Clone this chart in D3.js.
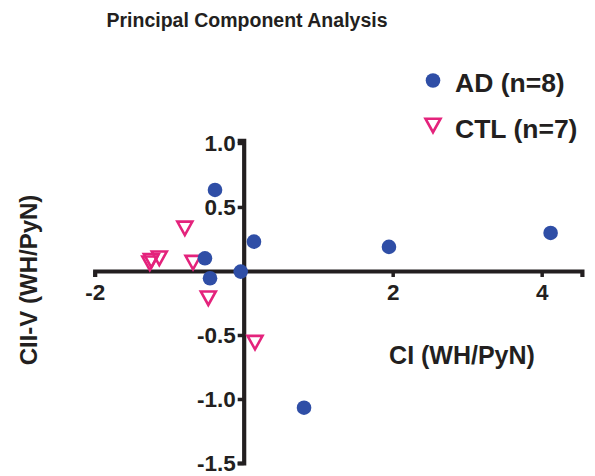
<!DOCTYPE html>
<html>
<head>
<meta charset="utf-8">
<script src="https://cdn.jsdelivr.net/npm/d3@7"></script>
<style>
  body { margin: 0; background: #fff; }
  text { font-family: "Liberation Sans", Arial, sans-serif; font-weight: bold; fill: #231f20; }
</style>
</head>
<body>
<svg id="chart" width="595" height="476"></svg>
<script>
// PCA scores
var adX  = [-0.385, 0.138, -0.52, -0.452, -0.04, 1.95, 4.12, 0.81];
var adY  = [0.633, 0.229, 0.099, -0.057, -0.005, 0.188, 0.297, -1.068];
var ctlX = [-0.79, -1.24, -1.133, -0.68, -0.475, 0.152, -1.26];
var ctlY = [0.333, 0.08, 0.099, 0.065, -0.213, -0.56, 0.06];
var xTicks = [-2, 2, 4];
var yTicks = [1.0, 0.5, -0.5, -1.0, -1.5];
var legendLabels = ['AD (n=8)', 'CTL (n=7)'];

var blue = '#2f4ea6', pink = '#e4237c', ink = '#231f20';

var svg = d3.select('#chart');

var x = d3.scaleLinear().domain([-2, 4.54]).range([94.7, 581.9]);
var y = d3.scaleLinear().domain([-1.5, 1.02]).range([463, 140.4]);

function tri(cx, cy, w, h) {
  return 'M' + (cx - w / 2) + ',' + (cy - h / 2) + 'L' + (cx + w / 2) + ',' + (cy - h / 2) + 'L' + cx + ',' + (cy + h / 2) + 'Z';
}
var fmt = function (f) { return function (d) { return f(d).replace('\u2212', '-'); }; };

// title
svg.append('text').attr('x', 247).attr('y', 27).attr('text-anchor', 'middle')
  .attr('font-size', 19.5).text('Principal Component Analysis');

// axes
var xAxis = svg.append('g').attr('transform', 'translate(0,' + y(0) + ')')
  .call(d3.axisBottom(x).tickValues(xTicks).tickSizeOuter(0).tickSize(6).tickPadding(7).tickFormat(fmt(d3.format('d'))));
var yAxis = svg.append('g').attr('transform', 'translate(' + x(0) + ',0)')
  .call(d3.axisLeft(y).tickValues(yTicks).tickSizeOuter(0).tickSize(6).tickPadding(2).tickFormat(fmt(d3.format('.1f'))));

[xAxis, yAxis].forEach(function (g) {
  g.select('.domain').attr('stroke', ink).attr('stroke-width', 4.2);
  g.selectAll('.tick line').attr('stroke', ink).attr('stroke-width', 3.5);
  g.selectAll('.tick text').attr('font-size', 22.5).attr('font-family', '"Liberation Sans", Arial, sans-serif')
    .attr('font-weight', 'bold').attr('fill', ink);
});

// axis labels
svg.append('text').attr('x', 462).attr('y', 364).attr('text-anchor', 'middle')
  .attr('font-size', 25).text('CI (WH/PyN)');
svg.append('text').attr('transform', 'translate(37,280) rotate(-90)').attr('text-anchor', 'middle')
  .attr('font-size', 24).text('CII-V (WH/PyN)');

// points
svg.append('g').selectAll('path').data(ctlX).enter().append('path')
  .attr('d', function (d, i) { return tri(x(d), y(ctlY[i]), 15, 13.5); })
  .attr('fill', 'none').attr('stroke', pink).attr('stroke-width', 2.6).attr('stroke-linejoin', 'miter');

svg.append('g').selectAll('circle').data(adX).enter().append('circle')
  .attr('cx', function (d) { return x(d); })
  .attr('cy', function (d, i) { return y(adY[i]); })
  .attr('r', 7.3).attr('fill', blue);

// legend
var lg = svg.append('g');
lg.append('circle').attr('cx', 433).attr('cy', 80.5).attr('r', 7.3).attr('fill', blue);
lg.append('path').attr('d', tri(433, 125.5, 15, 13.5)).attr('fill', 'none')
  .attr('stroke', pink).attr('stroke-width', 2.6);
lg.selectAll('text').data(legendLabels).enter().append('text')
  .attr('x', 455).attr('y', function (d, i) { return 91.5 + i * 46; })
  .attr('font-size', 26.5).text(function (d) { return d; });
</script>
</body>
</html>
